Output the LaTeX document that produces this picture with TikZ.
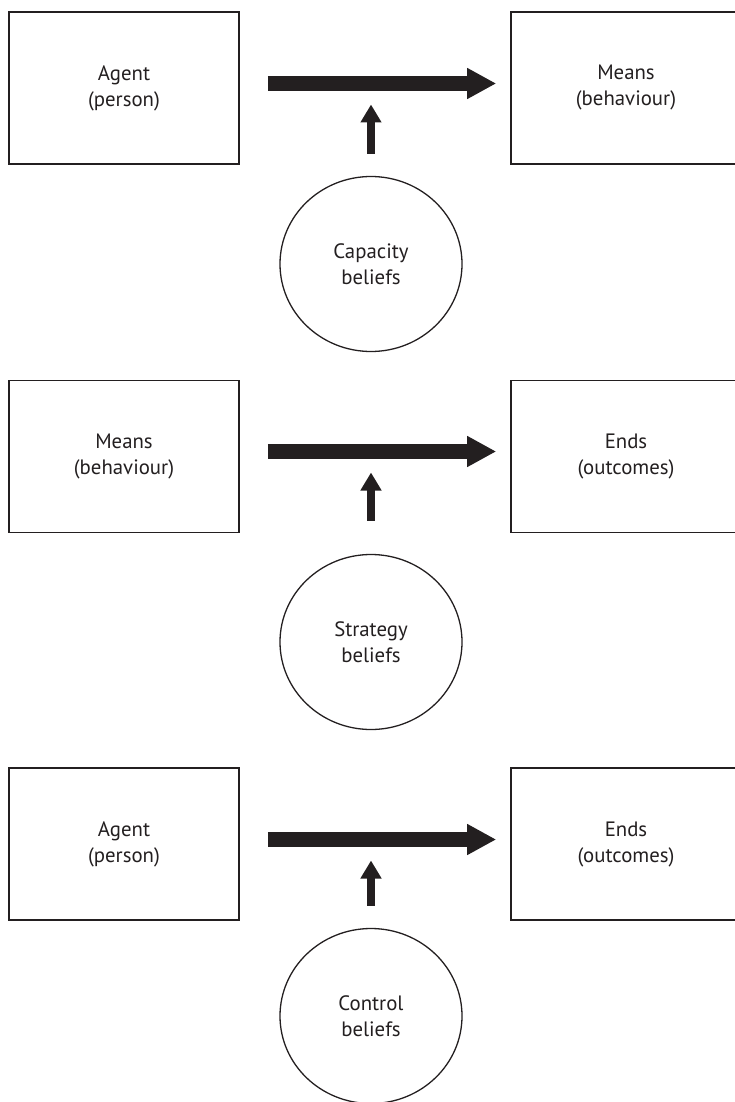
\documentclass[tikz,border=0pt]{standalone}
\usepackage{fontspec}
\setmainfont{PT Sans}
\usetikzlibrary{arrows.meta,shapes.geometric}
\definecolor{ink}{HTML}{231F20}
\tikzset{
  label text/.style={text=ink, align=center, font=\fontsize{20.8}{26}\selectfont},
  box/.style={label text, draw=ink, line width=1.6pt, minimum width=230pt, minimum height=152pt},
  belief/.style={label text, ellipse, draw=ink, line width=1.3pt, minimum width=182pt, minimum height=175pt, inner sep=0pt},
  fat/.style={ink, line width=15pt, -{Triangle[length=29pt,width=29pt]}, shorten <=28pt, shorten >=14pt},
  pin/.style={ink, line width=8.5pt, -{Triangle[length=18pt,width=20pt]}, shorten <=22pt, shorten >=21pt}
}
\begin{document}
\begin{tikzpicture}[x=1pt,y=-1pt]
  \useasboundingbox (0,0) rectangle (734,1102);

  % capacity
  \node[box] (agent1) at (124,88) {Agent\\(person)};
  \node[box] (means1) at (626,88) {Means\\(behaviour)};
  \node[belief] (capacity) at (371,264) {Capacity\\beliefs};
  \coordinate (h1) at (371,83.5);
  \draw[fat] (agent1.east |- h1) -- (means1.west |- h1);
  \draw[pin] (capacity.north) -- (h1);

  % strategy
  \node[box] (means2) at (124,456.5) {Means\\(behaviour)};
  \node[box] (ends2) at (626,456.5) {Ends\\(outcomes)};
  \node[belief] (strategy) at (371,642) {Strategy\\beliefs};
  \coordinate (h2) at (371,451.5);
  \draw[fat] (means2.east |- h2) -- (ends2.west |- h2);
  \draw[pin, shorten <=33pt] (strategy.north) -- (h2);

  % control
  \node[box] (agent3) at (124,844) {Agent\\(person)};
  \node[box] (ends3) at (626,844) {Ends\\(outcomes)};
  \node[belief] (control) at (371,1016) {Control\\beliefs};
  \coordinate (h3) at (371,839.5);
  \draw[fat] (agent3.east |- h3) -- (ends3.west |- h3);
  \draw[pin] (control.north) -- (h3);
\end{tikzpicture}
\end{document}
